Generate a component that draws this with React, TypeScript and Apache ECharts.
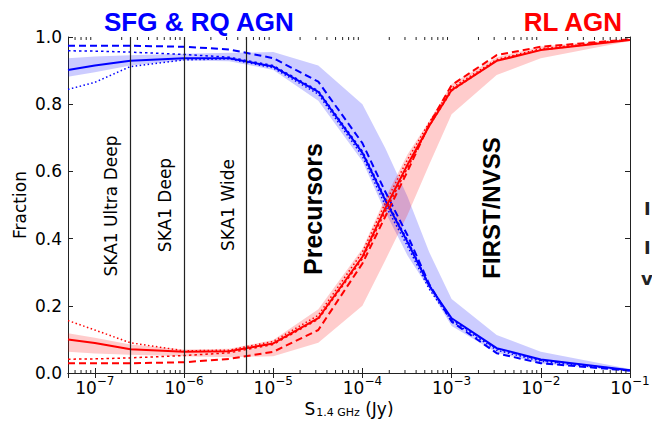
import React, { useEffect, useRef } from 'react';
import * as echarts from 'echarts';

// Flux density S_1.4GHz (Jy) sample points
const fluxJy = [5e-8, 1e-7, 2.5e-7, 1e-6, 3.2e-6, 1e-5, 3.2e-5, 1e-4, 1.8e-4, 3.2e-4, 5.6e-4, 1e-3, 3.2e-3, 1e-2, 1e-1];

// SFG & RQ AGN fractions
const blueSolid = [0.902, 0.915, 0.929, 0.937, 0.937, 0.912, 0.837, 0.655, 0.515, 0.39, 0.26, 0.163, 0.074, 0.04, 0.008];
const blueDashed = [0.974, 0.974, 0.974, 0.971, 0.963, 0.937, 0.867, 0.684, 0.54, 0.41, 0.265, 0.153, 0.059, 0.029, 0.007];
const blueDotted = [0.844, 0.865, 0.912, 0.932, 0.935, 0.908, 0.83, 0.645, 0.5, 0.378, 0.25, 0.155, 0.068, 0.035, 0.007];
const blueDashDot = [0.959, 0.958, 0.955, 0.948, 0.94, 0.915, 0.84, 0.66, 0.52, 0.395, 0.262, 0.16, 0.072, 0.038, 0.008];
const blueLow = [0.882, 0.895, 0.915, 0.93, 0.928, 0.902, 0.81, 0.63, 0.48, 0.35, 0.25, 0.14, 0.06, 0.028, 0.005];
const blueHigh = [0.937, 0.942, 0.946, 0.95, 0.953, 0.955, 0.915, 0.8, 0.67, 0.525, 0.36, 0.22, 0.113, 0.063, 0.012];

// RL AGN fractions
const redSolid = [0.1, 0.089, 0.071, 0.063, 0.065, 0.088, 0.163, 0.346, 0.49, 0.62, 0.735, 0.842, 0.929, 0.961, 0.991];
const redDashed = [0.029, 0.029, 0.029, 0.032, 0.042, 0.063, 0.128, 0.326, 0.465, 0.6, 0.74, 0.857, 0.946, 0.971, 0.993];
const redDotted = [0.156, 0.128, 0.09, 0.066, 0.068, 0.094, 0.172, 0.36, 0.505, 0.635, 0.745, 0.848, 0.933, 0.965, 0.993];
const redDashDot = [0.041, 0.042, 0.045, 0.052, 0.06, 0.085, 0.16, 0.34, 0.48, 0.61, 0.735, 0.84, 0.93, 0.962, 0.992];
const redLow = [0.063, 0.058, 0.054, 0.05, 0.047, 0.05, 0.09, 0.2, 0.335, 0.47, 0.62, 0.77, 0.887, 0.937, 0.988];
const redHigh = [0.118, 0.105, 0.085, 0.07, 0.072, 0.098, 0.19, 0.37, 0.52, 0.65, 0.75, 0.86, 0.94, 0.972, 0.995];

// Survey flux limits (Jy)
const skaLimits = [2.5e-7, 1e-6, 5e-6];
const surveyLimits = [1.6e-5, 1e-3];

// Axis range
const xMin = 5e-8;
const xMax = 1e-1;
const yTickValues = [0, 0.2, 0.4, 0.6, 0.8, 1.0];

const AXIS_FONT = 'DejaVu Sans';
const BOLD_FONT = 'Liberation Sans';

function pairs(vals: number[]) {
  return fluxJy.map((x, i) => [x, vals[i]]);
}

function minorTicks(): number[] {
  const out: number[] = [];
  for (let e = -8; e <= -2; e++) {
    for (let m = 2; m <= 9; m++) {
      const v = m * Math.pow(10, e);
      if (v > xMin && v < xMax) out.push(v);
    }
  }
  return out;
}

function lineSeries(data: number[], color: string, type: any, width: number, z: number) {
  return {
    type: 'line',
    data: pairs(data),
    symbol: 'none',
    showSymbol: false,
    silent: true,
    z,
    lineStyle: { color, width, type },
  };
}

function bandSeries(low: number[], high: number[], color: string) {
  return {
    type: 'custom',
    silent: true,
    z: 1,
    data: [[fluxJy[0], low[0]]],
    encode: { x: 0, y: 1 },
    renderItem: (params: any, api: any) => {
      const lowPts = fluxJy.map((x, i) => api.coord([x, low[i]]));
      const highPts = fluxJy.map((x, i) => api.coord([x, high[i]])).reverse();
      return {
        type: 'polygon',
        shape: { points: lowPts.concat(highPts) },
        style: { fill: color, stroke: 'none' },
      };
    },
  };
}

export default function App() {
  const ref = useRef<HTMLDivElement>(null);

  useEffect(() => {
    if (!ref.current) return;
    const chart = echarts.init(ref.current, null, { renderer: 'svg' });
    const axisColor = '#222';
    const xAxisBase = {
      type: 'log',
      min: xMin,
      max: xMax,
      logBase: 10,
      splitLine: { show: false },
      axisLine: { show: true, lineStyle: { color: axisColor, width: 1 } },
      axisTick: { show: true, inside: true, length: 5, lineStyle: { color: axisColor } },
    };
    const yAxisBase = {
      type: 'value',
      min: 0,
      max: 1,
      interval: 0.2,
      splitLine: { show: false },
      axisLine: { show: true, lineStyle: { color: axisColor, width: 1 } },
      axisTick: { show: true, inside: true, length: 5, lineStyle: { color: axisColor } },
    };

    const option: any = {
      animation: false,
      backgroundColor: '#fff',
      grid: { left: 68, right: 22, top: 37, bottom: 48, containLabel: false, outerBoundsMode: 'none' },
      xAxis: [
        {
          ...xAxisBase,
          position: 'bottom',
          name: '{a|S}{s|1.4 GHz}{a| (Jy)}',
          nameLocation: 'middle',
          nameGap: 27,
          nameMoveOverlap: false,
          nameTextStyle: {
            rich: {
              a: { fontFamily: AXIS_FONT, fontSize: 17, color: '#000', lineHeight: 18, verticalAlign: 'top' },
              s: { fontFamily: AXIS_FONT, fontSize: 11, color: '#000', lineHeight: 10, verticalAlign: 'bottom', padding: [8, 0, 0, 1] },
            },
          },
          axisLabel: {
            show: true,
            margin: 2,
            showMinLabel: false,
            formatter: (v: number) => {
              const e = Math.round(Math.log10(v));
              return '{b|10}{s|\u2212' + Math.abs(e) + '}';
            },
            rich: {
              b: { fontFamily: AXIS_FONT, fontSize: 17, color: '#000', lineHeight: 21, verticalAlign: 'bottom' },
              s: { fontFamily: AXIS_FONT, fontSize: 12, color: '#000', lineHeight: 12, verticalAlign: 'top' },
            },
          },
        },
        {
          ...xAxisBase,
          position: 'top',
          axisLabel: { show: false },
        },
      ],
      yAxis: [
        {
          ...yAxisBase,
          position: 'left',
          name: 'Fraction',
          nameLocation: 'middle',
          nameGap: 40,
          nameMoveOverlap: false,
          nameTextStyle: { fontFamily: AXIS_FONT, fontSize: 17, color: '#000' },
          axisLabel: {
            show: true,
            margin: 6,
            fontFamily: AXIS_FONT,
            fontSize: 17,
            color: '#000',
            formatter: (v: number) => (yTickValues.some((t) => Math.abs(t - v) < 1e-9) ? v.toFixed(1) : ''),
          },
        },
        {
          ...yAxisBase,
          position: 'right',
          axisLabel: { show: false },
        },
      ],
      series: [
        bandSeries(blueLow, blueHigh, 'rgba(0,0,255,0.2)'),
        bandSeries(redLow, redHigh, 'rgba(255,0,0,0.2)'),
        {
          type: 'line',
          data: [],
          silent: true,
          z: 2,
          markLine: {
            silent: true,
            symbol: 'none',
            label: { show: false },
            lineStyle: { color: '#222', width: 1.2, type: 'solid' },
            data: skaLimits.map((x) => [{ coord: [x, 0] }, { coord: [x, 1] }]),
          },
        },
        lineSeries(blueDotted, '#0000ff', [1.5, 2.5], 1.5, 3),
        lineSeries(blueDashDot, '#0000ff', [2.5, 3], 1.5, 3),
        lineSeries(blueDashed, '#0000ff', [7, 4], 2, 3),
        lineSeries(blueSolid, '#0000ff', 'solid', 2, 3),
        lineSeries(redDotted, '#ff0000', [1.5, 2.5], 1.5, 3),
        lineSeries(redDashDot, '#ff0000', [2.5, 3], 1.5, 3),
        lineSeries(redDashed, '#ff0000', [7, 4], 2, 3),
        lineSeries(redSolid, '#ff0000', 'solid', 2, 3),
        {
          type: 'line',
          data: [],
          silent: true,
          z: 10,
          markLine: {
            silent: true,
            symbol: 'none',
            label: { show: false },
            lineStyle: { color: '#4a5ba4', width: 6, type: 'solid', opacity: 1 },
            data: [
              [{ coord: [surveyLimits[0], -0.012] }, { coord: [surveyLimits[0], 0.997] }],
              [{ coord: [surveyLimits[1], -0.01] }, { coord: [surveyLimits[1], 0.985] }],
            ],
          },
        },
        {
          type: 'custom',
          silent: true,
          z: 11,
          clip: false,
          data: minorTicks().map((v) => [v, 0]),
          encode: { x: 0, y: 1 },
          renderItem: (params: any, api: any) => {
            const v = api.value(0);
            const pb = api.coord([v, 0]);
            const pt = api.coord([v, 1]);
            return {
              type: 'group',
              children: [
                { type: 'line', shape: { x1: pb[0], y1: pb[1], x2: pb[0], y2: pb[1] - 3 }, style: { stroke: '#222', lineWidth: 1 } },
                { type: 'line', shape: { x1: pt[0], y1: pt[1], x2: pt[0], y2: pt[1] + 3 }, style: { stroke: '#222', lineWidth: 1 } },
              ],
            };
          },
        },
      ],
      graphic: [
        {
          type: 'text', x: 104, y: 22,
          style: { text: 'SFG & RQ AGN', fill: '#0000ff', font: `bold 26px "${BOLD_FONT}"`, align: 'left', verticalAlign: 'middle' },
        },
        {
          type: 'text', x: 622, y: 22,
          style: { text: 'RL AGN', fill: '#ff0000', font: `bold 26px "${BOLD_FONT}"`, align: 'right', verticalAlign: 'middle' },
        },
        {
          type: 'text', x: 111, y: 206, rotation: Math.PI / 2,
          style: { text: 'SKA1 Ultra Deep', fill: '#000', font: `17px "${AXIS_FONT}"`, align: 'center', verticalAlign: 'middle' },
        },
        {
          type: 'text', x: 164.5, y: 205, rotation: Math.PI / 2,
          style: { text: 'SKA1 Deep', fill: '#000', font: `17px "${AXIS_FONT}"`, align: 'center', verticalAlign: 'middle' },
        },
        {
          type: 'text', x: 227.5, y: 205, rotation: Math.PI / 2,
          style: { text: 'SKA1 Wide', fill: '#000', font: `17px "${AXIS_FONT}"`, align: 'center', verticalAlign: 'middle' },
        },
        {
          type: 'text', x: 312.5, y: 209, rotation: Math.PI / 2, z: 20,
          style: { text: 'Precursors', fill: '#000', font: `bold 25px "${BOLD_FONT}"`, align: 'center', verticalAlign: 'middle' },
        },
        {
          type: 'text', x: 491.7, y: 208, rotation: Math.PI / 2, z: 20,
          style: { text: 'FIRST/NVSS', fill: '#000', font: `bold 24px "${BOLD_FONT}"`, align: 'center', verticalAlign: 'middle' },
        },
        {
          type: 'text', x: 644, y: 208,
          style: { text: 'I', fill: '#222', font: `bold 18px "${AXIS_FONT}"`, align: 'left', verticalAlign: 'middle' },
        },
        {
          type: 'text', x: 644, y: 247,
          style: { text: 'I', fill: '#222', font: `bold 18px "${AXIS_FONT}"`, align: 'left', verticalAlign: 'middle' },
        },
        {
          type: 'text', x: 641, y: 278,
          style: { text: 'v', fill: '#222', font: `bold 18px "${AXIS_FONT}"`, align: 'left', verticalAlign: 'middle' },
        },
      ],
    };

    chart.setOption(option);
    return () => chart.dispose();
  }, []);

  return (
    <div
      ref={ref}
      style={{ position: 'fixed', left: 0, top: 0, width: 652, height: 421, background: '#fff' }}
    />
  );
}
